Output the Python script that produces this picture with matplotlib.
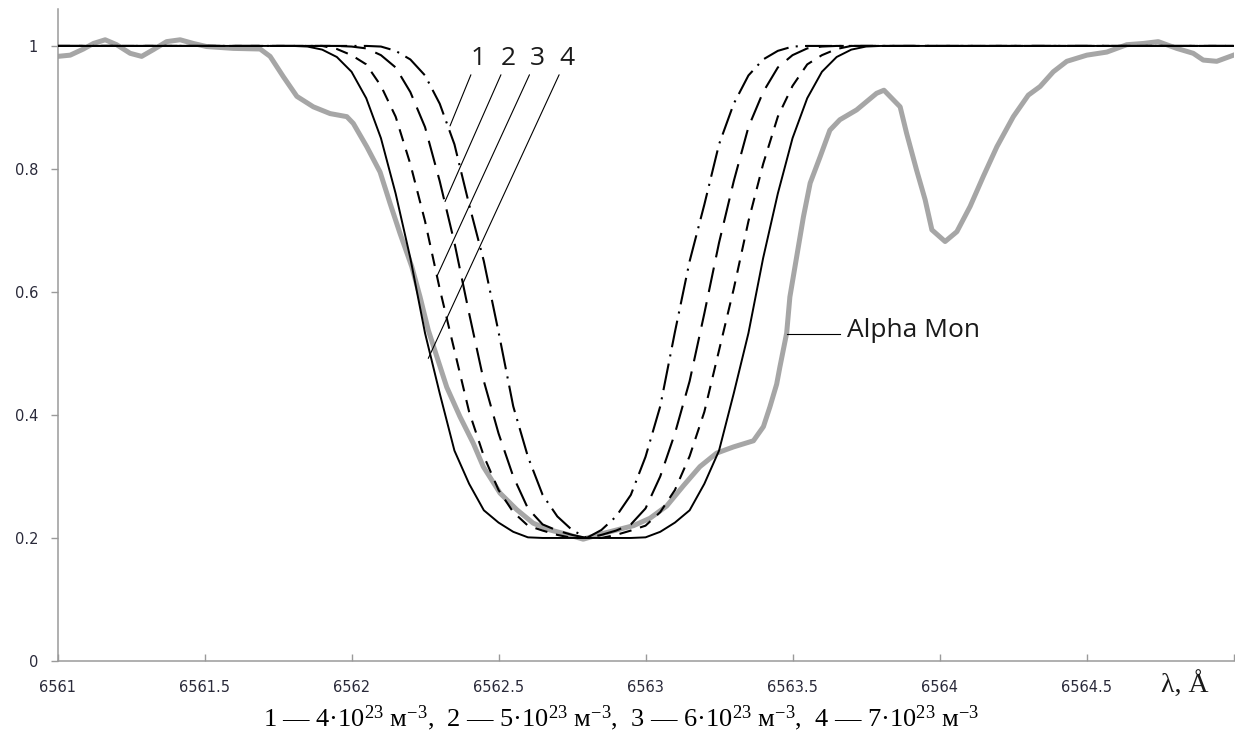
import numpy as np
import matplotlib
matplotlib.use('Agg')
import matplotlib.pyplot as plt

plt.rcParams['mathtext.fontset'] = 'custom'
plt.rcParams['mathtext.rm'] = 'Liberation Serif'
plt.rcParams['mathtext.default'] = 'rm'

# model profiles: shared wavelength grid (A)
wl_model = np.r_[6561.0, np.round(np.arange(6561.8, 6563.8001, 0.05), 2), 6565.0]

# 1 - 4e23 (dash-dot)
flux_1 = [1.0,
          1.0, 1.0, 1.0, 1.0, 1.0, 1.0, 0.999, 0.992, 0.978, 0.952, 0.906, 0.84, 0.742,
          0.65, 0.535, 0.414, 0.332, 0.27, 0.235, 0.213, 0.2,
          0.213, 0.235, 0.27, 0.332, 0.414, 0.535, 0.65, 0.742, 0.84, 0.906, 0.952,
          0.978, 0.992, 0.999, 1.0, 1.0, 1.0, 1.0, 1.0, 1.0,
          1.0]
# 2 - 5e23 (long dash)
flux_2 = [1.0,
          1.0, 1.0, 1.0, 1.0, 0.999, 0.996, 0.985, 0.965, 0.925, 0.868, 0.78, 0.68, 0.565,
          0.455, 0.37, 0.3, 0.248, 0.222, 0.212, 0.205, 0.2,
          0.205, 0.212, 0.222, 0.248, 0.3, 0.37, 0.455, 0.565, 0.68, 0.78, 0.868,
          0.925, 0.965, 0.985, 0.996, 0.999, 1.0, 1.0, 1.0, 1.0,
          1.0]
# 3 - 6e23 (short dash)
flux_3 = [1.0,
          1.0, 1.0, 1.0, 0.995, 0.985, 0.97, 0.935, 0.885, 0.808, 0.715, 0.605, 0.505, 0.405,
          0.333, 0.278, 0.242, 0.22, 0.212, 0.205, 0.2, 0.2,
          0.2, 0.205, 0.212, 0.22, 0.242, 0.278, 0.333, 0.405, 0.505, 0.605, 0.715,
          0.808, 0.885, 0.935, 0.97, 0.985, 0.995, 1.0, 1.0, 1.0,
          1.0]
# 4 - 7e23 (solid)
flux_4 = [1.0,
          1.0, 0.999, 0.994, 0.982, 0.958, 0.915, 0.85, 0.76, 0.655, 0.533, 0.435, 0.342, 0.288,
          0.245, 0.225, 0.21, 0.201, 0.2, 0.2, 0.2, 0.2,
          0.2, 0.2, 0.2, 0.201, 0.21, 0.225, 0.245, 0.288, 0.342, 0.435, 0.533,
          0.655, 0.76, 0.85, 0.915, 0.958, 0.982, 0.994, 0.999, 1.0,
          1.0]

# observed spectrum of Alpha Mon
wl_obs = [6561.000, 6561.043, 6561.088, 6561.122, 6561.162, 6561.201, 6561.247, 6561.286,
          6561.326, 6561.371, 6561.417, 6561.462, 6561.507, 6561.598, 6561.689, 6561.723,
          6561.768, 6561.814, 6561.870, 6561.927, 6561.984, 6562.006, 6562.052, 6562.097,
          6562.131, 6562.165, 6562.205, 6562.233, 6562.261, 6562.290, 6562.324, 6562.369,
          6562.414, 6562.448, 6562.505, 6562.562, 6562.618, 6562.675, 6562.732, 6562.788,
          6562.845, 6562.902, 6562.959, 6563.015, 6563.072, 6563.129, 6563.185, 6563.242,
          6563.299, 6563.367, 6563.401, 6563.423, 6563.446, 6563.457, 6563.480, 6563.491,
          6563.514, 6563.537, 6563.560, 6563.594, 6563.627, 6563.661, 6563.718, 6563.786,
          6563.811, 6563.866, 6563.888, 6563.922, 6563.951, 6563.974, 6564.019, 6564.059,
          6564.104, 6564.149, 6564.195, 6564.251, 6564.302, 6564.342, 6564.387, 6564.433,
          6564.501, 6564.569, 6564.637, 6564.693, 6564.744, 6564.807, 6564.863, 6564.897,
          6564.943, 6565.000]
flux_obs = [0.983, 0.985, 0.995, 1.004, 1.010, 1.002, 0.988, 0.983,
            0.994, 1.007, 1.010, 1.004, 0.999, 0.996, 0.995, 0.983,
            0.950, 0.918, 0.901, 0.890, 0.885, 0.874, 0.836, 0.795,
            0.744, 0.695, 0.641, 0.592, 0.538, 0.495, 0.445, 0.397,
            0.354, 0.316, 0.273, 0.246, 0.224, 0.213, 0.206, 0.198,
            0.206, 0.213, 0.220, 0.232, 0.252, 0.285, 0.316, 0.338,
            0.348, 0.358, 0.381, 0.413, 0.450, 0.478, 0.533, 0.592,
            0.657, 0.722, 0.777, 0.820, 0.863, 0.880, 0.896, 0.923,
            0.928, 0.901, 0.858, 0.798, 0.750, 0.701, 0.682, 0.698,
            0.739, 0.788, 0.836, 0.885, 0.920, 0.934, 0.958, 0.975,
            0.985, 0.990, 1.002, 1.004, 1.007, 0.996, 0.988, 0.977,
            0.975, 0.985]

x_ticks = [6561, 6561.5, 6562, 6562.5, 6563, 6563.5, 6564, 6564.5, 6565]
x_labels = ['6561', '6561.5', '6562', '6562.5', '6563', '6563.5', '6564', '6564.5', '']
y_ticks = [0, 0.2, 0.4, 0.6, 0.8, 1.0]
y_labels = ['0', '0.2', '0.4', '0.6', '0.8', '1']
caption = ('1 — 4·10$^{23}$ м$^{-3}$,  2 — 5·10$^{23}$ м$^{-3}$,  '
           '3 — 6·10$^{23}$ м$^{-3}$,  4 — 7·10$^{23}$ м$^{-3}$')

fig = plt.figure(figsize=(12.35, 7.4), dpi=100)
ax = fig.add_axes([0.0466, 0.1068, 0.9522, 0.881])

ax.plot(wl_obs, flux_obs, color='#a6a6a6', lw=3.6, zorder=2, solid_joinstyle='round')
ax.plot(wl_model, flux_1, color='black', lw=1.5, linestyle=(0, (13, 3.5, 1, 3.5)), zorder=3)
ax.plot(wl_model, flux_2, color='black', lw=1.5, linestyle=(0, (12, 5)), zorder=3)
ax.plot(wl_model, flux_3, color='black', lw=1.5, linestyle=(0, (6, 4.3)), zorder=3)
ax.plot(wl_model, flux_4, color='black', lw=1.4, zorder=3)

ax.set_xlim(6561, 6565)
ax.set_ylim(0, 1.06)

for side in ['top', 'right']:
    ax.spines[side].set_visible(False)
for side in ['left', 'bottom']:
    ax.spines[side].set_color('#9a9a9a')
    ax.spines[side].set_linewidth(1.1)

ax.set_xticks(x_ticks)
ax.set_xticklabels(x_labels)
ax.set_yticks(y_ticks)
ax.set_yticklabels(y_labels)
ax.tick_params(axis='x', direction='in', length=5, width=1, color='#9a9a9a',
               pad=14, labelsize=10.5, labelcolor='#2a2a3a')
ax.tick_params(axis='y', direction='out', length=5, width=1, color='#9a9a9a',
               pad=9, labelsize=10.5, labelcolor='#2a2a3a')

# curve labels with leader lines
label_font = dict(family='Open Sans', fontsize=19, color='#1a1a1a')
leader = dict(arrowstyle='-', lw=0.8, color='black', shrinkA=1, shrinkB=0)
ax.annotate('1', xy=(6562.335, 0.870), xytext=(6562.429, 0.98), ha='center', va='center',
            arrowprops=leader, **label_font)
ax.annotate('2', xy=(6562.318, 0.747), xytext=(6562.533, 0.98), ha='center', va='center',
            arrowprops=leader, **label_font)
ax.annotate('3', xy=(6562.290, 0.625), xytext=(6562.631, 0.98), ha='center', va='center',
            arrowprops=leader, **label_font)
ax.annotate('4', xy=(6562.261, 0.492), xytext=(6562.732, 0.98), ha='center', va='center',
            arrowprops=leader, **label_font)

ax.plot([6563.481, 6563.662], [0.532, 0.532], color='black', lw=0.8, zorder=4)
ax.text(6563.684, 0.537, 'Alpha Mon', ha='left', va='center', **label_font)

fig.text(1185 / 1235, 1 - 685 / 740, 'λ, Å', family='Liberation Serif', fontsize=20,
         ha='center', va='center', color='#1a1a1a')
fig.text(621 / 1235, 1 - 718 / 740, caption, family='Liberation Serif', fontsize=19,
         ha='center', va='center', color='black')

fig.savefig('out.png', dpi=100)
